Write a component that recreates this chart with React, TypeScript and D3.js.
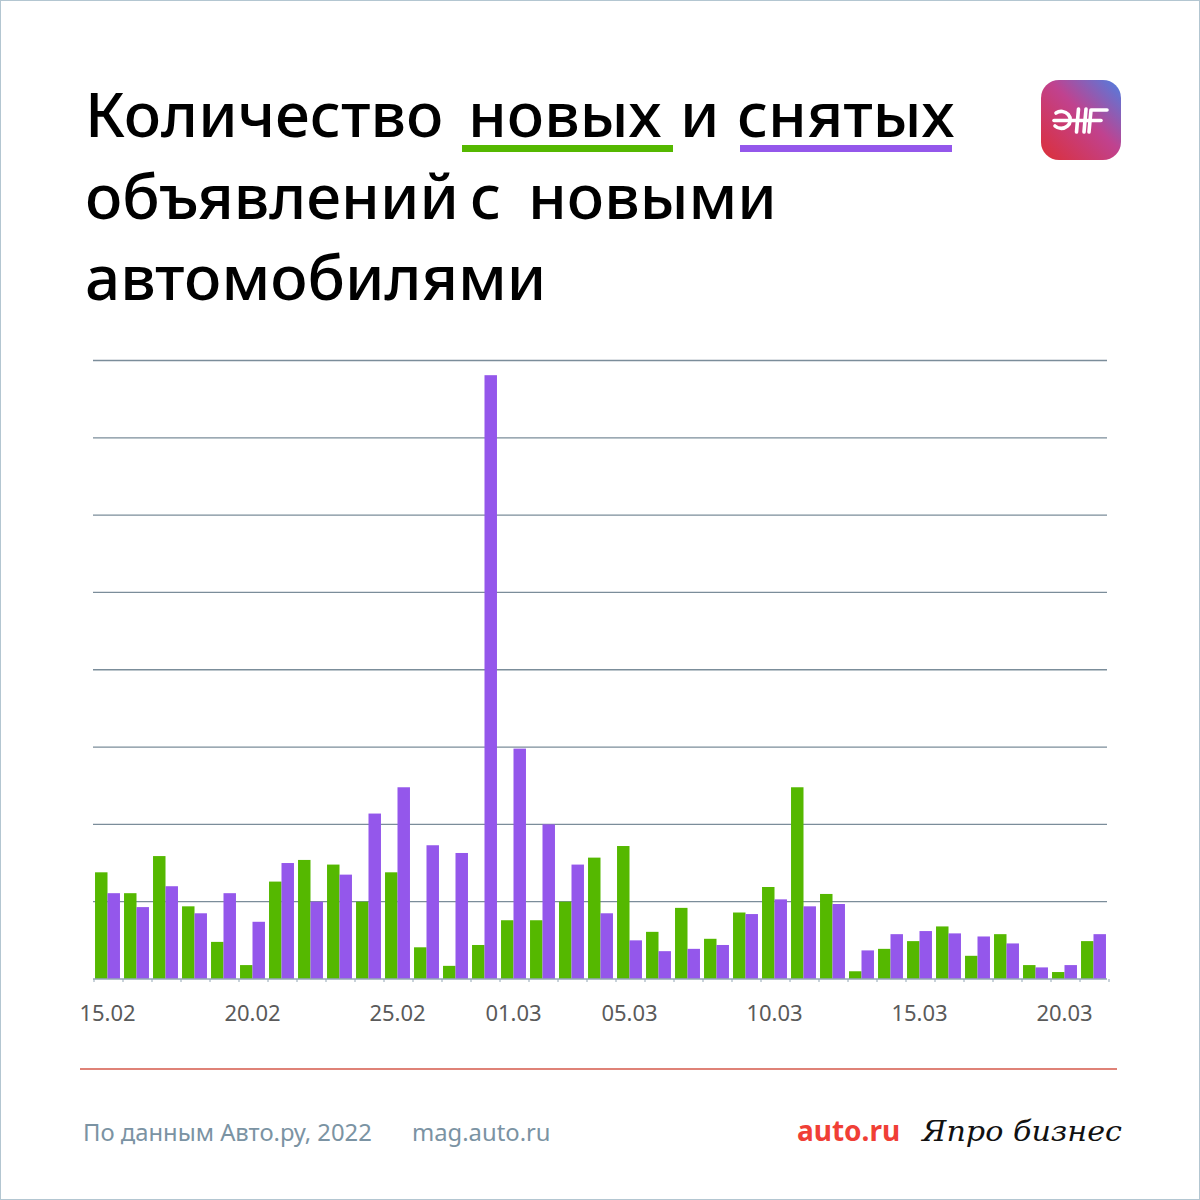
import React from 'react';
import * as d3 from 'd3';

// daily dates, 15.02 – 21.03.2022
const dates = [
    '15.02', '16.02', '17.02', '18.02', '19.02', '20.02', '21.02', '22.02', '23.02', '24.02',
    '25.02', '26.02', '27.02', '28.02', '01.03', '02.03', '03.03', '04.03', '05.03', '06.03',
    '07.03', '08.03', '09.03', '10.03', '11.03', '12.03', '13.03', '14.03', '15.03', '16.03',
    '17.03', '18.03', '19.03', '20.03', '21.03'
];
// new listings (relative units, one gridline = 100)
const newAds = [
    138, 111, 159, 94, 48, 18, 126, 154, 148, 100,
    138, 41, 17, 44, 76, 76, 100, 157, 172, 61,
    92, 52, 86, 119, 248, 110, 10, 39, 49, 68,
    30, 58, 18, 9, 49
];
// removed listings
const removedAds = [
    111, 93, 120, 85, 111, 74, 150, 100, 135, 214,
    248, 173, 163, 781, 298, 200, 148, 85, 50, 36,
    39, 44, 84, 103, 94, 97, 37, 58, 62, 59,
    55, 46, 15, 18, 58
];
const tickLabels = ['15.02', '20.02', '25.02', '01.03', '05.03', '10.03', '15.03', '20.03'];
const gridValues = [0, 100, 200, 300, 400, 500, 600, 700, 800];

const GREEN = '#55b800';
const PURPLE = '#9457eb';
const FONT = '"Noto Sans", sans-serif';

const App: React.FC = () => {
    const width = 1200;
    const height = 1200;
    const left = 93;
    const right = 1108;
    const bottom = 979;
    const top = 360.5;

    const x0 = d3.scaleBand<string>().domain(dates).range([left, right])
        .paddingInner(0.14).paddingOuter(0.07);
    const x1 = d3.scaleBand<string>().domain(['new', 'removed']).range([0, x0.bandwidth()]);
    const y = d3.scaleLinear().domain([0, 800]).range([bottom, top]);

    const rows = dates.map((d, i) => ({ date: d, new: newAds[i], removed: removedAds[i] }));
    const step = x0.step();

    return (
        <svg width={width} height={height} style={{ position: 'absolute', left: 0, top: 0 }}
            fontFamily={FONT}>
            <defs>
                <linearGradient id="aif" x1="0" y1="1" x2="1" y2="0">
                    <stop offset="0" stopColor="#dc2f38" />
                    <stop offset="0.55" stopColor="#c0428f" />
                    <stop offset="1" stopColor="#4d7fe2" />
                </linearGradient>
            </defs>
            <rect x={0.5} y={0.5} width={width - 1} height={height - 1} fill="#fff" stroke="#b3c6d1" />

            {/* title */}
            <g fontSize={62} fontWeight={500} fill="#000">
                <text x={85} y={137}>Количество</text>
                <text x={468} y={137}>новых</text>
                <text x={680} y={137}>и</text>
                <text x={737} y={137}>снятых</text>
                <text x={85} y={219}>объявлений</text>
                <text x={470} y={219}>с</text>
                <text x={528} y={219}>новыми</text>
                <text x={85} y={300}>автомобилями</text>
            </g>
            <rect x={462} y={145} width={211} height={7} fill={GREEN} />
            <rect x={740} y={145} width={212} height={7} fill={PURPLE} />

            {/* logo */}
            <g transform="translate(1041,80)">
                <rect width={80} height={80} rx={18} fill="url(#aif)" />
                <g fill="none" stroke="#fff" strokeWidth={3.6} strokeLinecap="round">
                    <path d="M15,33 A9,8.5 0 1 1 14,46" />
                    <path d="M13,40.5 H60" />
                    <path d="M37.5,29 L35.5,52" />
                    <path d="M45,29 L43,52" />
                    <path d="M50,30 H66 M50,30 L48,52" />
                </g>
            </g>

            {/* grid */}
            <g stroke="#7b8d9a" strokeWidth={1.3}>
                {gridValues.slice(1).map(v => (
                    <line key={v} x1={left} x2={right - 1} y1={y(v)} y2={y(v)} />
                ))}
            </g>

            {/* bars */}
            {rows.map(r => (
                <g key={r.date} transform={`translate(${x0(r.date)},0)`}>
                    <rect x={x1('new')} y={y(r.new)} width={x1.bandwidth()}
                        height={bottom - y(r.new)} fill={GREEN} />
                    <rect x={x1('removed')} y={y(r.removed)} width={x1.bandwidth()}
                        height={bottom - y(r.removed)} fill={PURPLE} />
                </g>
            ))}

            {/* x axis */}
            <line x1={left} x2={right - 1} y1={bottom} y2={bottom} stroke="#93a6b5" strokeWidth={1.5} />
            <g stroke="#93a6b5" strokeWidth={1}>
                {d3.range(dates.length + 1).map(i => (
                    <line key={i} x1={left + 1 + i * step} x2={left + 1 + i * step}
                        y1={bottom} y2={bottom + 3} />
                ))}
            </g>
            <g fontSize={22} fill="#5a5a5a" textAnchor="middle">
                {tickLabels.map(t => (
                    <text key={t} x={(x0(t) ?? 0) + x0.bandwidth() / 2} y={1021}>{t}</text>
                ))}
            </g>

            <line x1={80} x2={1117} y1={1069} y2={1069} stroke="#d5584a" strokeWidth={1.3} />

            {/* footer */}
            <g fontSize={23.8} fill="#7b93a3">
                <text x={83} y={1141}>По данным Авто.ру, 2022</text>
                <text x={412} y={1141}>mag.auto.ru</text>
            </g>
            <text x={797} y={1141} fontSize={28} fontWeight={700} fill="#f03f36">auto.ru</text>
            <text x={922} y={1141} fontSize={27} fontStyle="italic" fontFamily='"DejaVu Serif", serif'
                fill="#111" textLength={200} lengthAdjust="spacingAndGlyphs">Япро бизнес</text>
        </svg>
    );
};

export default App;
